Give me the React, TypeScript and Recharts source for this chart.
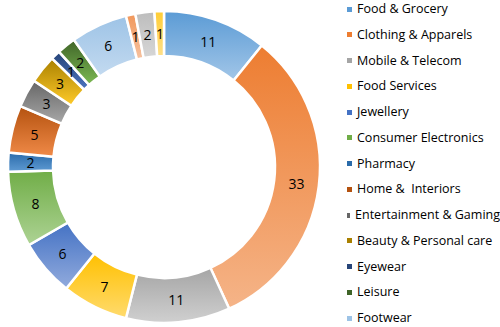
import { Cell, Legend, Pie, PieChart } from "recharts";

const categories = [
  "Food & Grocery",
  "Clothing & Apparels",
  "Mobile & Telecom",
  "Food Services",
  "Jewellery",
  "Consumer Electronics",
  "Pharmacy",
  "Home &  Interiors",
  "Entertainment & Gaming",
  "Beauty & Personal care",
  "Eyewear",
  "Leisure",
  "Footwear",
  "Category 14",
  "Category 15",
  "Category 16",
];

const values = [11, 33, 11, 7, 6, 8, 2, 5, 3, 3, 1, 2, 6, 1, 2, 1];

// number of entries visible in the legend (the rest is cut off in the original)
const legendCount = 13;

const TOP_COLORS = [
  "#5B9BD5", "#ED7D31", "#A5A5A5", "#FFC000", "#4472C4", "#70AD47",
  "#2A6BAA", "#B4520F", "#666666", "#A98000", "#264478", "#3F6428",
  "#9DC3E6", "#F1975A", "#BDBDBD", "#FFCD33",
];
const BOTTOM_COLORS = [
  "#A2C6E8", "#F5B488", "#D0D0D0", "#FFDB6E", "#92ABDD", "#ADD394",
  "#5F9BD3", "#F08A48", "#A8A8A8", "#FFCB2A", "#4B73BF", "#7CB953",
  "#C3DAF0", "#F6C2A0", "#D6D6D6", "#FFE08A",
];

const data = categories.map((name, i) => ({ name, value: values[i] }));

const RADIAN = Math.PI / 180;

const renderLabel = (props: any) => {
  const { cx, cy, midAngle, innerRadius, outerRadius, value } = props;
  const r = (innerRadius + outerRadius) / 2;
  const x = cx + r * Math.cos(-midAngle * RADIAN);
  const y = cy + r * Math.sin(-midAngle * RADIAN);
  return (
    <text
      x={x}
      y={y}
      textAnchor="middle"
      dominantBaseline="central"
      fill="#000"
      fontSize={14}
      fontFamily="Open Sans, sans-serif"
    >
      {value}
    </text>
  );
};

const renderLegend = () => (
  <div style={{ fontFamily: "Open Sans, sans-serif", fontSize: 12.5, color: "#000", paddingTop: 2 }}>
    {categories.slice(0, legendCount).map((name, i) => (
      <div
        key={name}
        style={{
          height: 14,
          marginBottom: 11.75,
          display: "flex",
          alignItems: "center",
          whiteSpace: "pre",
          lineHeight: "14px",
        }}
      >
        <span
          style={{
            display: "inline-block",
            width: 5,
            height: 5,
            background: TOP_COLORS[i],
            marginRight: 5,
          }}
        />
        {name}
      </div>
    ))}
  </div>
);

const App: React.FC = () => {
  return (
    <div style={{ position: "absolute", left: 0, top: 0, background: "#fff" }}>
      <PieChart width={500} height={327}>
        <defs>
          {TOP_COLORS.map((c, i) => (
            <linearGradient key={`g-${i}`} id={`grad-${i}`} x1="0" y1="0" x2="0" y2="1">
              <stop offset="0%" stopColor={c} />
              <stop offset="100%" stopColor={BOTTOM_COLORS[i]} />
            </linearGradient>
          ))}
        </defs>
        <Pie
          data={data}
          dataKey="value"
          nameKey="name"
          cx={159}
          cy={162}
          innerRadius={111}
          outerRadius={156}
          startAngle={90}
          endAngle={-270}
          stroke="#fff"
          strokeWidth={2.5}
          label={renderLabel}
          labelLine={false}
          isAnimationActive={false}
        >
          {data.map((entry, index) => (
            <Cell key={`cell-${index}`} fill={`url(#grad-${index})`} />
          ))}
        </Pie>
        <Legend
          layout="vertical"
          align="right"
          verticalAlign="top"
          content={renderLegend}
          wrapperStyle={{ left: 347, top: 0, width: 153 }}
        />
      </PieChart>
    </div>
  );
};

export default App;
